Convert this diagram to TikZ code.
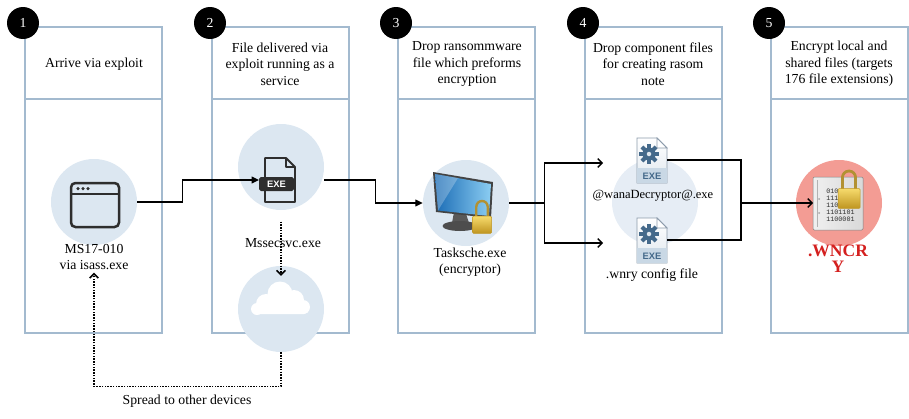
\documentclass[tikz,border=0pt]{standalone}
\usepackage{fontspec}
\setmainfont{Liberation Serif}
\newfontfamily\iconfont{Liberation Sans}
\newfontfamily\binfont{Liberation Mono}
\usetikzlibrary{arrows.meta,positioning,calc}

\definecolor{panelline}{HTML}{A3BACF}
\definecolor{bubble}{HTML}{DCE7F1}
\definecolor{bubblelight}{HTML}{E6EDF5}
\definecolor{bubblered}{HTML}{F39C94}
\definecolor{wncry}{HTML}{D4201F}
\definecolor{icondark}{HTML}{2E2E2E}
\definecolor{pageline}{HTML}{8C9BAB}
\definecolor{pagefill}{HTML}{DFE7EE}
\definecolor{pageband}{HTML}{C9D8E5}
\definecolor{gearblue}{HTML}{44698A}
\definecolor{screenA}{HTML}{1B6CB5}
\definecolor{screenB}{HTML}{8BCDF2}
\definecolor{goldA}{HTML}{F6DA6C}
\definecolor{goldB}{HTML}{BF9520}

\tikzset{
  panel/.style={draw=panelline, line width=1pt},
  stepnum/.style={circle, fill=black, text=white, minimum size=25.6pt, inner sep=0pt,
    font=\fontsize{11}{12}\selectfont},
  bubble/.style={circle, fill=bubble, minimum size=68.8pt, inner sep=0pt},
  iconbox/.style={inner sep=0pt, outer sep=0pt},
  head/.style={align=center, font=\fontsize{11}{13.2}\selectfont},
  lbl/.style={align=center, inner sep=2pt, font=\fontsize{11}{13.2}\selectfont},
  flow/.style={draw, line width=1pt, -{Triangle[length=6pt,width=5.5pt]}},
  feed/.style={draw, line width=1pt, -{Straight Barb[length=3.5pt,width=7pt]}},
  spread/.style={draw, line width=1.2pt, densely dotted, -{Straight Barb[length=3.5pt,width=7pt]}},
}

% browser window
\newcommand{\windowicon}[1]{%
  \begin{scope}[shift={(#1)}]
    \draw[icondark, line width=2pt, rounded corners=3.5pt] (-24,-22) rectangle (24,22);
    \draw[icondark, line width=2pt] (-24,-11) -- (24,-11);
    \foreach \d in {-17,-12,-7} \fill[icondark] (\d,-16.5) circle (1.4pt);
  \end{scope}}

% exe file with dark tag
\newcommand{\exeicon}[2]{%
  \begin{scope}[shift={(#1)}]
    \draw[icondark, line width=1.5pt, line join=round] (-12,-22) -- (9,-22) -- (18,-13) -- (18,22) -- (-12,22) -- cycle;
    \draw[icondark, line width=1.5pt, line join=round] (9,-22) -- (9,-13) -- (18,-13);
    \fill[icondark, rounded corners=1.5pt] (-18,-3) rectangle (17,11);
    \node[text=white, font=\iconfont\bfseries\fontsize{7.5}{8}\selectfont] (#2) at (-0.5,4) {EXE};
  \end{scope}}

% exe file with gear
\newcommand{\gearicon}[2]{%
  \begin{scope}[shift={(#1)}]
    \draw[pageline, top color=white, bottom color=pagefill, line width=0.6pt]
      (-15,-22) -- (5,-22) -- (15,-12) -- (15,23) -- (-15,23) -- cycle;
    \fill[pageband] (-14.6,8) rectangle (14.6,22.6);
    \draw[pageline, fill=white, line width=0.6pt] (5,-22) -- (5,-12) -- (15,-12) -- cycle;
    \foreach \a in {0,45,...,315}
      \fill[gearblue, rotate around={\a:(-3,-6)}] (-5,-16) rectangle (-1,-11);
    \fill[gearblue] (-3,-6) circle (5.2pt);
    \fill[pagefill] (-3,-6) circle (1.8pt);
    \node[text=gearblue, font=\iconfont\bfseries\fontsize{7.5}{8}\selectfont] (#2) at (0,16) {EXE};
  \end{scope}}

% padlock, #1 = body centre, #2 = scale in px
\newcommand{\padlock}[2]{%
  \begin{scope}[shift={(#1)}, x=#2*0.8pt, y=-#2*0.8pt]
    \draw[line width=#2*2pt, draw=goldB!80!gray] (-6,0) -- (-6,-14) arc[start angle=180, end angle=0, radius=#2*4.8pt] -- (6,0);
    \draw[draw=goldB, top color=goldA, bottom color=goldB, rounded corners=0.8pt] (-10,-4) rectangle (10,14);
  \end{scope}}

% monitor with padlock
\newcommand{\lockedscreen}[1]{%
  \begin{scope}[shift={(#1)}]
    \fill[gray!70!black] (-12,12) -- (0,14) -- (3,23) -- (-14,23) -- cycle;
    \fill[icondark!85] (-6,26) ellipse (14pt and 4pt);
    \fill[icondark!90] (-33,-28) -- (27,-18) -- (25,18) -- (-30,12) -- cycle;
    \shade[left color=screenA, right color=screenB] (-31,-26) -- (25,-16) -- (23,16) -- (-28,10.5) -- cycle;
    \fill[white, opacity=0.25] (-31,-26) -- (-8,-22) -- (-28,10.5) -- cycle;
    \padlock{16,20}{0.95}
  \end{scope}}

% data file with padlock
\newcommand{\lockeddoc}[2]{%
  \begin{scope}[shift={(#1)}]
    \draw[gray, left color=gray!12, right color=gray!30, rounded corners=1pt] (-25,-26) rectangle (25,27);
    \draw[gray!60] (-21,-23) -- (-21,24);
    \fill[gray!70] (-19,-4) circle (0.8pt) (-19,10) circle (0.8pt);
    \node[align=left, anchor=north west, inner sep=0pt, text=icondark,
      font=\binfont\fontsize{5.4}{5.6}\selectfont] (#2) at (-12,-14) {010\\111\\1100110\\1101101\\1100001};
    \padlock{11,-10}{1.1}
  \end{scope}}

\begin{document}
\begin{tikzpicture}[x=0.8pt, y=-0.8pt]
  \useasboundingbox (0,0) rectangle (909,419);

  % columns
  \foreach \px/\n in {25/1,212/2,398/3,585/4,771/5}{
    \draw[panel] (\px,27) rectangle ++(137,306);
    \draw[panel] (\px,99) -- ++(137,0);
    \node[stepnum] (s\n) at (\px-2,23) {\n};
  }

  % column titles
  \node[head] (h1) at (94,64) {Arrive via exploit};
  \node[head] (h2) at (280,64) {File delivered via\\exploit running as a\\service};
  \node[head] (h3) at (467,64) {Drop ransommware\\file which preforms\\encryption};
  \node[head] (h4) at (653,64) {Drop component files\\for creating rasom\\note};
  \node[head] (h5) at (839,64) {Encrypt local and\\shared files (targets\\176 file extensions)};

  % bubbles
  \node[bubble] (c1) at (94,202) {};
  \node[bubble] (c2) at (281,167) {};
  \node[bubble] (cloud) at (281,309) {};
  \node[bubble] (c3) at (466,203) {};
  \node[bubble, fill=bubblelight] (c4) at (655,202) {};
  \node[bubble, fill=bubblered] (c5) at (839,203) {};

  % icons
  \node[iconbox, minimum width=28.8pt, minimum height=35.2pt] (exe) at (277,180) {};
  \node[iconbox, minimum width=24pt, minimum height=36pt] (g1) at (652,160) {};
  \node[iconbox, minimum width=24pt, minimum height=36pt] (g2) at (652,240) {};
  \node[iconbox, minimum width=40pt, minimum height=42.4pt] (doc) at (838,203) {};
  \windowicon{95,205}
  \exeicon{exe}{exetag}
  \gearicon{g1}{g1tag}
  \gearicon{g2}{g2tag}
  \lockedscreen{466,200}
  \lockeddoc{doc}{bits}
  \begin{scope}[shift={(cloud)}]
    \fill[white] (-15,-5) circle (8pt) (-1,-15) circle (10pt) (13,-9) circle (8pt)
      (22,-2) circle (5.6pt) (-24,0) circle (4.8pt);
    \fill[white, rounded corners=4pt] (-28,-6) rectangle (28,5);
  \end{scope}

  % labels
  \node[lbl] (l1) at (94,257) {MS17-010\\via isass.exe};
  \node[lbl] (l2) at (283,243) {Mssecsvc.exe};
  \node[lbl] (l3) at (470,262) {Tasksche.exe\\(encryptor)};
  \node[lbl, font=\fontsize{10}{12}\selectfont] (l4a) at (653,196) {@wanaDecryptor@.exe};
  \node[lbl] (l4b) at (652,275) {.wnry config file};
  \node[lbl, text=wncry, font=\bfseries\fontsize{14}{12.5}\selectfont] (l5) at (838,259) {.WNCR\\Y};
  \node[lbl] (spreadlbl) at (187,401) {Spread to other devices};

  % flow
  \draw[flow] (c1.east) -- ++(45,0) |- (exe.west);
  \draw[flow] (exe.east -| c2.east) -- ++(51,0) |- (c3.west);
  \coordinate (t1) at (603,163);
  \coordinate (t2) at (603,243);
  \coordinate (merge) at (741,203);
  \draw[line width=1pt] (c3.east) -- ++(35,0) coordinate (split);
  \draw[feed] (split) |- (t1);
  \draw[feed] (split) |- (t2);
  \draw[line width=1pt] (g1.east) -| (merge);
  \draw[line width=1pt] (g2.east) -| (merge);
  \draw[feed] (merge) -- (doc.west);

  % spreading
  \draw[spread] ([yshift=-9pt]c2.south) -- ([yshift=-8pt]cloud.north);
  \draw[spread] (cloud.south) -- ++(0,34) -| (l1.south);
\end{tikzpicture}
\end{document}
